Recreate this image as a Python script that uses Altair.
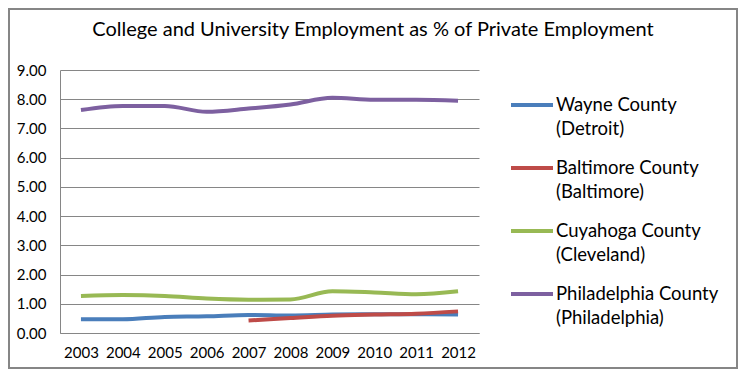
import altair as alt
import pandas as pd

title_text = "College and University Employment as % of Private Employment"
years = ["2003", "2004", "2005", "2006", "2007", "2008", "2009", "2010", "2011", "2012"]
series_names = [
    "Wayne County|(Detroit)",
    "Baltimore County|(Baltimore)",
    "Cuyahoga County|(Cleveland)",
    "Philadelphia County|(Philadelphia)",
]
wayne = [0.47, 0.47, 0.55, 0.57, 0.62, 0.60, 0.63, 0.64, 0.64, 0.63]
baltimore = [None, None, None, None, 0.43, 0.51, 0.59, 0.63, 0.66, 0.74]
cuyahoga = [1.27, 1.30, 1.27, 1.18, 1.14, 1.15, 1.43, 1.39, 1.33, 1.43]
philadelphia = [7.63, 7.77, 7.77, 7.57, 7.68, 7.82, 8.05, 7.98, 7.98, 7.95]
colors = ["#4A7EBB", "#BE4B48", "#98B954", "#7D60A0"]

rows = []
for name, vals in zip(series_names, [wayne, baltimore, cuyahoga, philadelphia]):
    for y, v in zip(years, vals):
        if v is not None:
            rows.append({"Year": y, "Series": name, "Value": v})
df = pd.DataFrame(rows)

FONT = "Lato"

lines = alt.Chart(df).mark_line(strokeWidth=4, interpolate="monotone").encode(
    x=alt.X("Year:N", sort=years, scale=alt.Scale(paddingOuter=0.5),
            axis=alt.Axis(title=None, labelAngle=0, ticks=False, grid=False,
                          domainColor="#868686", labelFontSize=15, labelPadding=12,
                          labelColor="#000000", labelFont=FONT)),
    y=alt.Y("Value:Q", scale=alt.Scale(domain=[0, 9], nice=False),
            axis=alt.Axis(title=None, values=[0, 1, 2, 3, 4, 5, 6, 7, 8, 9],
                          format=".2f", ticks=False, gridColor="#868686",
                          domainColor="#868686", labelFontSize=15, labelPadding=14,
                          labelColor="#000000", labelFont=FONT)),
    color=alt.Color("Series:N", sort=series_names,
                    scale=alt.Scale(domain=series_names, range=colors),
                    legend=alt.Legend(title=None, orient="none", legendX=449, legendY=12,
                                      symbolType="stroke", symbolSize=1764,
                                      symbolStrokeWidth=4, labelFontSize=18.5,
                                      labelFont=FONT, labelColor="#000000",
                                      labelBaseline="middle",
                                      labelExpr="split(datum.label, '|')",
                                      rowPadding=6, symbolOffset=0, labelOffset=1,
                                      labelLimit=300)),
)

one = pd.DataFrame({"a": [0]})
border = alt.Chart(one).mark_rect(
    fill=None, stroke="#868686", strokeWidth=2, clip=False
).encode(x=alt.value(-51), x2=alt.value(677), y=alt.value(-61), y2=alt.value(298))

title = alt.Chart(one).mark_text(
    fontSize=20, font=FONT, color="#000000", align="center", baseline="middle", clip=False
).encode(text=alt.value(title_text), x=alt.value(313), y=alt.value(-40))

chart = alt.layer(border, title, lines).properties(
    width=419, height=263,
    autosize=alt.AutoSizeParams(type="none"),
    padding={"left": 52, "top": 62, "right": 259, "bottom": 37},
).configure_view(stroke=None)
chart.config.style = {"guide-label": {"lineHeight": 24}}

chart.save("out.html", embed_options={"renderer": "svg", "actions": False})
